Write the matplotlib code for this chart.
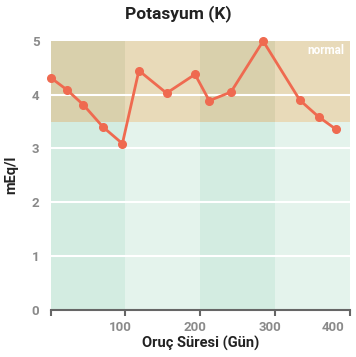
import matplotlib
matplotlib.use("Agg")
import matplotlib.pyplot as plt
from matplotlib.transforms import ScaledTranslation

days = [1, 22, 44, 70, 96, 118, 155, 193, 212, 241, 284, 333, 358, 381]
potassium = [4.31, 4.09, 3.81, 3.40, 3.09, 4.45, 4.03, 4.38, 3.89, 4.05, 5.0, 3.90, 3.59, 3.36]
band_edges = [0, 100, 200, 300, 400]
normal_low, normal_high = 3.5, 5.0
xticks = [100, 200, 300, 400]
yticks = [0, 1, 2, 3, 4, 5]

plt.rcParams['font.family'] = ['Roboto', 'DejaVu Sans']
fig = plt.figure(figsize=(3.56, 3.57), dpi=100)
ax = fig.add_axes([0.142, 0.133, 0.841, 0.752])

green = ['#d3ece1', '#e4f3ec']
tan = ['#d9d0ac', '#e8dab9']
ymax = 5.0
for i in range(len(band_edges) - 1):
    ax.axvspan(band_edges[i], band_edges[i + 1], ymin=0, ymax=normal_low / ymax,
               color=green[i % 2], lw=0, zorder=0)
    ax.axvspan(band_edges[i], band_edges[i + 1], ymin=normal_low / ymax, ymax=1,
               color=tan[i % 2], lw=0, zorder=0)

for y in yticks[1:-1]:
    ax.axhline(y, color='white', lw=1.5, zorder=1)

ax.plot(days, potassium, color='#ef6a50', lw=2, marker='o', ms=5.5, zorder=3, clip_on=False)

ax.text(392, 4.82, 'normal', color='white', fontweight='bold', fontsize=8.5,
        ha='right', va='center', zorder=4)

ax.set_xlim(0, 400)
ax.set_ylim(0, 5)
ax.set_xticks([0] + xticks)
ax.set_xticklabels([''] + [str(t) for t in xticks])
ax.set_yticks(yticks)
for s in ['top', 'right', 'left']:
    ax.spines[s].set_visible(False)
ax.spines['bottom'].set_color('#666666')
ax.spines['bottom'].set_linewidth(1.5)
ax.tick_params(axis='x', colors='#666666', length=4, width=1.5, labelsize=9.5, labelcolor='#8a8a8a', pad=4)
ax.tick_params(axis='y', length=0, labelsize=9.5, labelcolor='#8a8a8a', pad=8)
for lab in ax.get_xticklabels() + ax.get_yticklabels():
    lab.set_fontweight('bold')
xlabs = ax.get_xticklabels()
for k, lab in enumerate(xlabs[1:], start=1):
    shift = -4 / 72 if k < len(xlabs) - 1 else -12 / 72
    lab.set_transform(lab.get_transform() + ScaledTranslation(shift, 0, fig.dpi_scale_trans))

ax.set_xlabel('Oruç Süresi (Gün)', fontsize=10.5, fontweight='bold', color='#222222', labelpad=2)
ax.set_ylabel('mEq/l', fontsize=10.5, fontweight='bold', color='#222222', labelpad=10)
fig.suptitle('Potasyum (K)', y=0.985, fontsize=12.5, fontweight='bold', color='#222222')

fig.savefig('out.png', dpi=100)
